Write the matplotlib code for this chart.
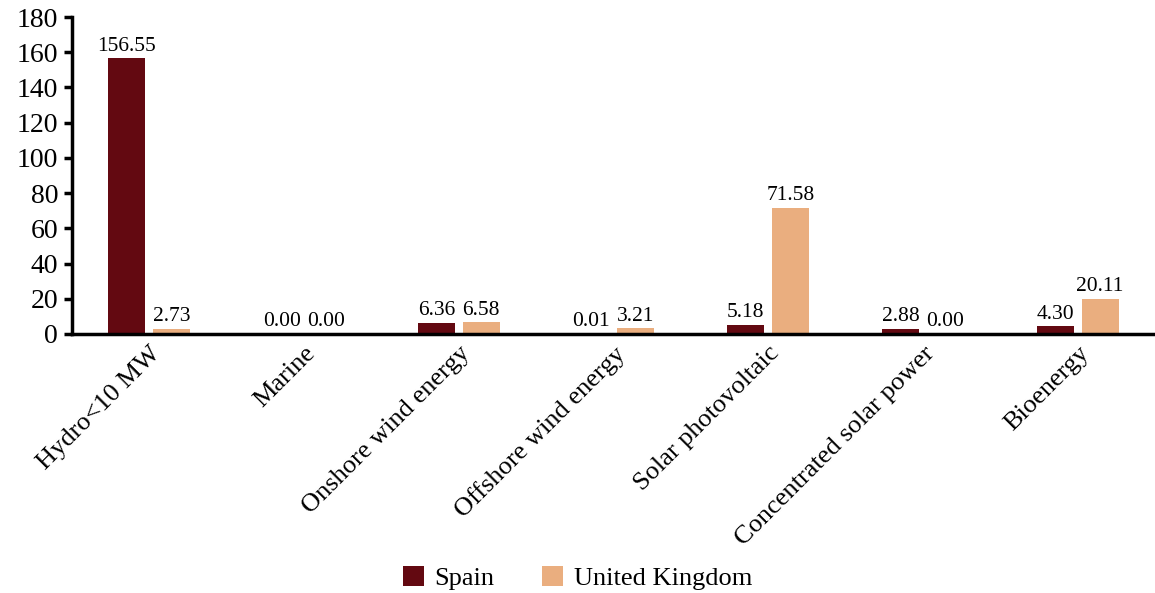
import matplotlib
matplotlib.use("Agg")
import matplotlib.pyplot as plt
import numpy as np

categories = ["Hydro<10 MW", "Marine", "Onshore wind energy", "Offshore wind energy",
              "Solar photovoltaic", "Concentrated solar power", "Bioenergy"]
spain = [156.55, 0.00, 6.36, 0.01, 5.18, 2.88, 4.30]
uk = [2.73, 0.00, 6.58, 3.21, 71.58, 0.00, 20.11]
series_names = ["Spain", "United Kingdom"]
y_ticks = [0, 20, 40, 60, 80, 100, 120, 140, 160, 180]

colors = ["#630911", "#EAAE7F"]

plt.rcParams["font.family"] = ["Liberation Serif", "DejaVu Serif"]

fig = plt.figure(figsize=(11.55, 5.93), dpi=100)
ax = fig.add_axes([0.0623, 0.4368, 0.9377, 0.5345])

x = np.arange(len(categories))
width = 0.24
offset = 0.145

bars_es = ax.bar(x - offset, spain, width, color=colors[0], label=series_names[0])
bars_uk = ax.bar(x + offset, uk, width, color=colors[1], label=series_names[1])

for bars, vals in ((bars_es, spain), (bars_uk, uk)):
    for b, v in zip(bars, vals):
        ax.annotate(f"{v:.2f}", (b.get_x() + b.get_width() / 2, v),
                    xytext=(0, 2), textcoords="offset points",
                    ha="center", va="bottom", fontsize=15.5)

ax.set_xlim(-0.5, len(categories) - 0.5)
ax.set_ylim(0, 180)
ax.set_yticks(y_ticks)
ax.tick_params(axis="y", labelsize=20, length=6, width=2.5, direction="out", pad=4)
ax.set_xticks(x)
ax.set_xticklabels(categories, rotation=45, ha="right", rotation_mode="anchor", fontsize=19)
ax.tick_params(axis="x", length=0, pad=6)

for side in ("top", "right"):
    ax.spines[side].set_visible(False)
for side in ("left", "bottom"):
    ax.spines[side].set_linewidth(2.5)

fig.legend(loc="lower center", bbox_to_anchor=(0.5, -0.035), ncol=2, frameon=False,
           fontsize=19, handlelength=0.8, handleheight=0.8, columnspacing=1.8,
           handletextpad=0.4)

fig.savefig("out.png", dpi=100)
